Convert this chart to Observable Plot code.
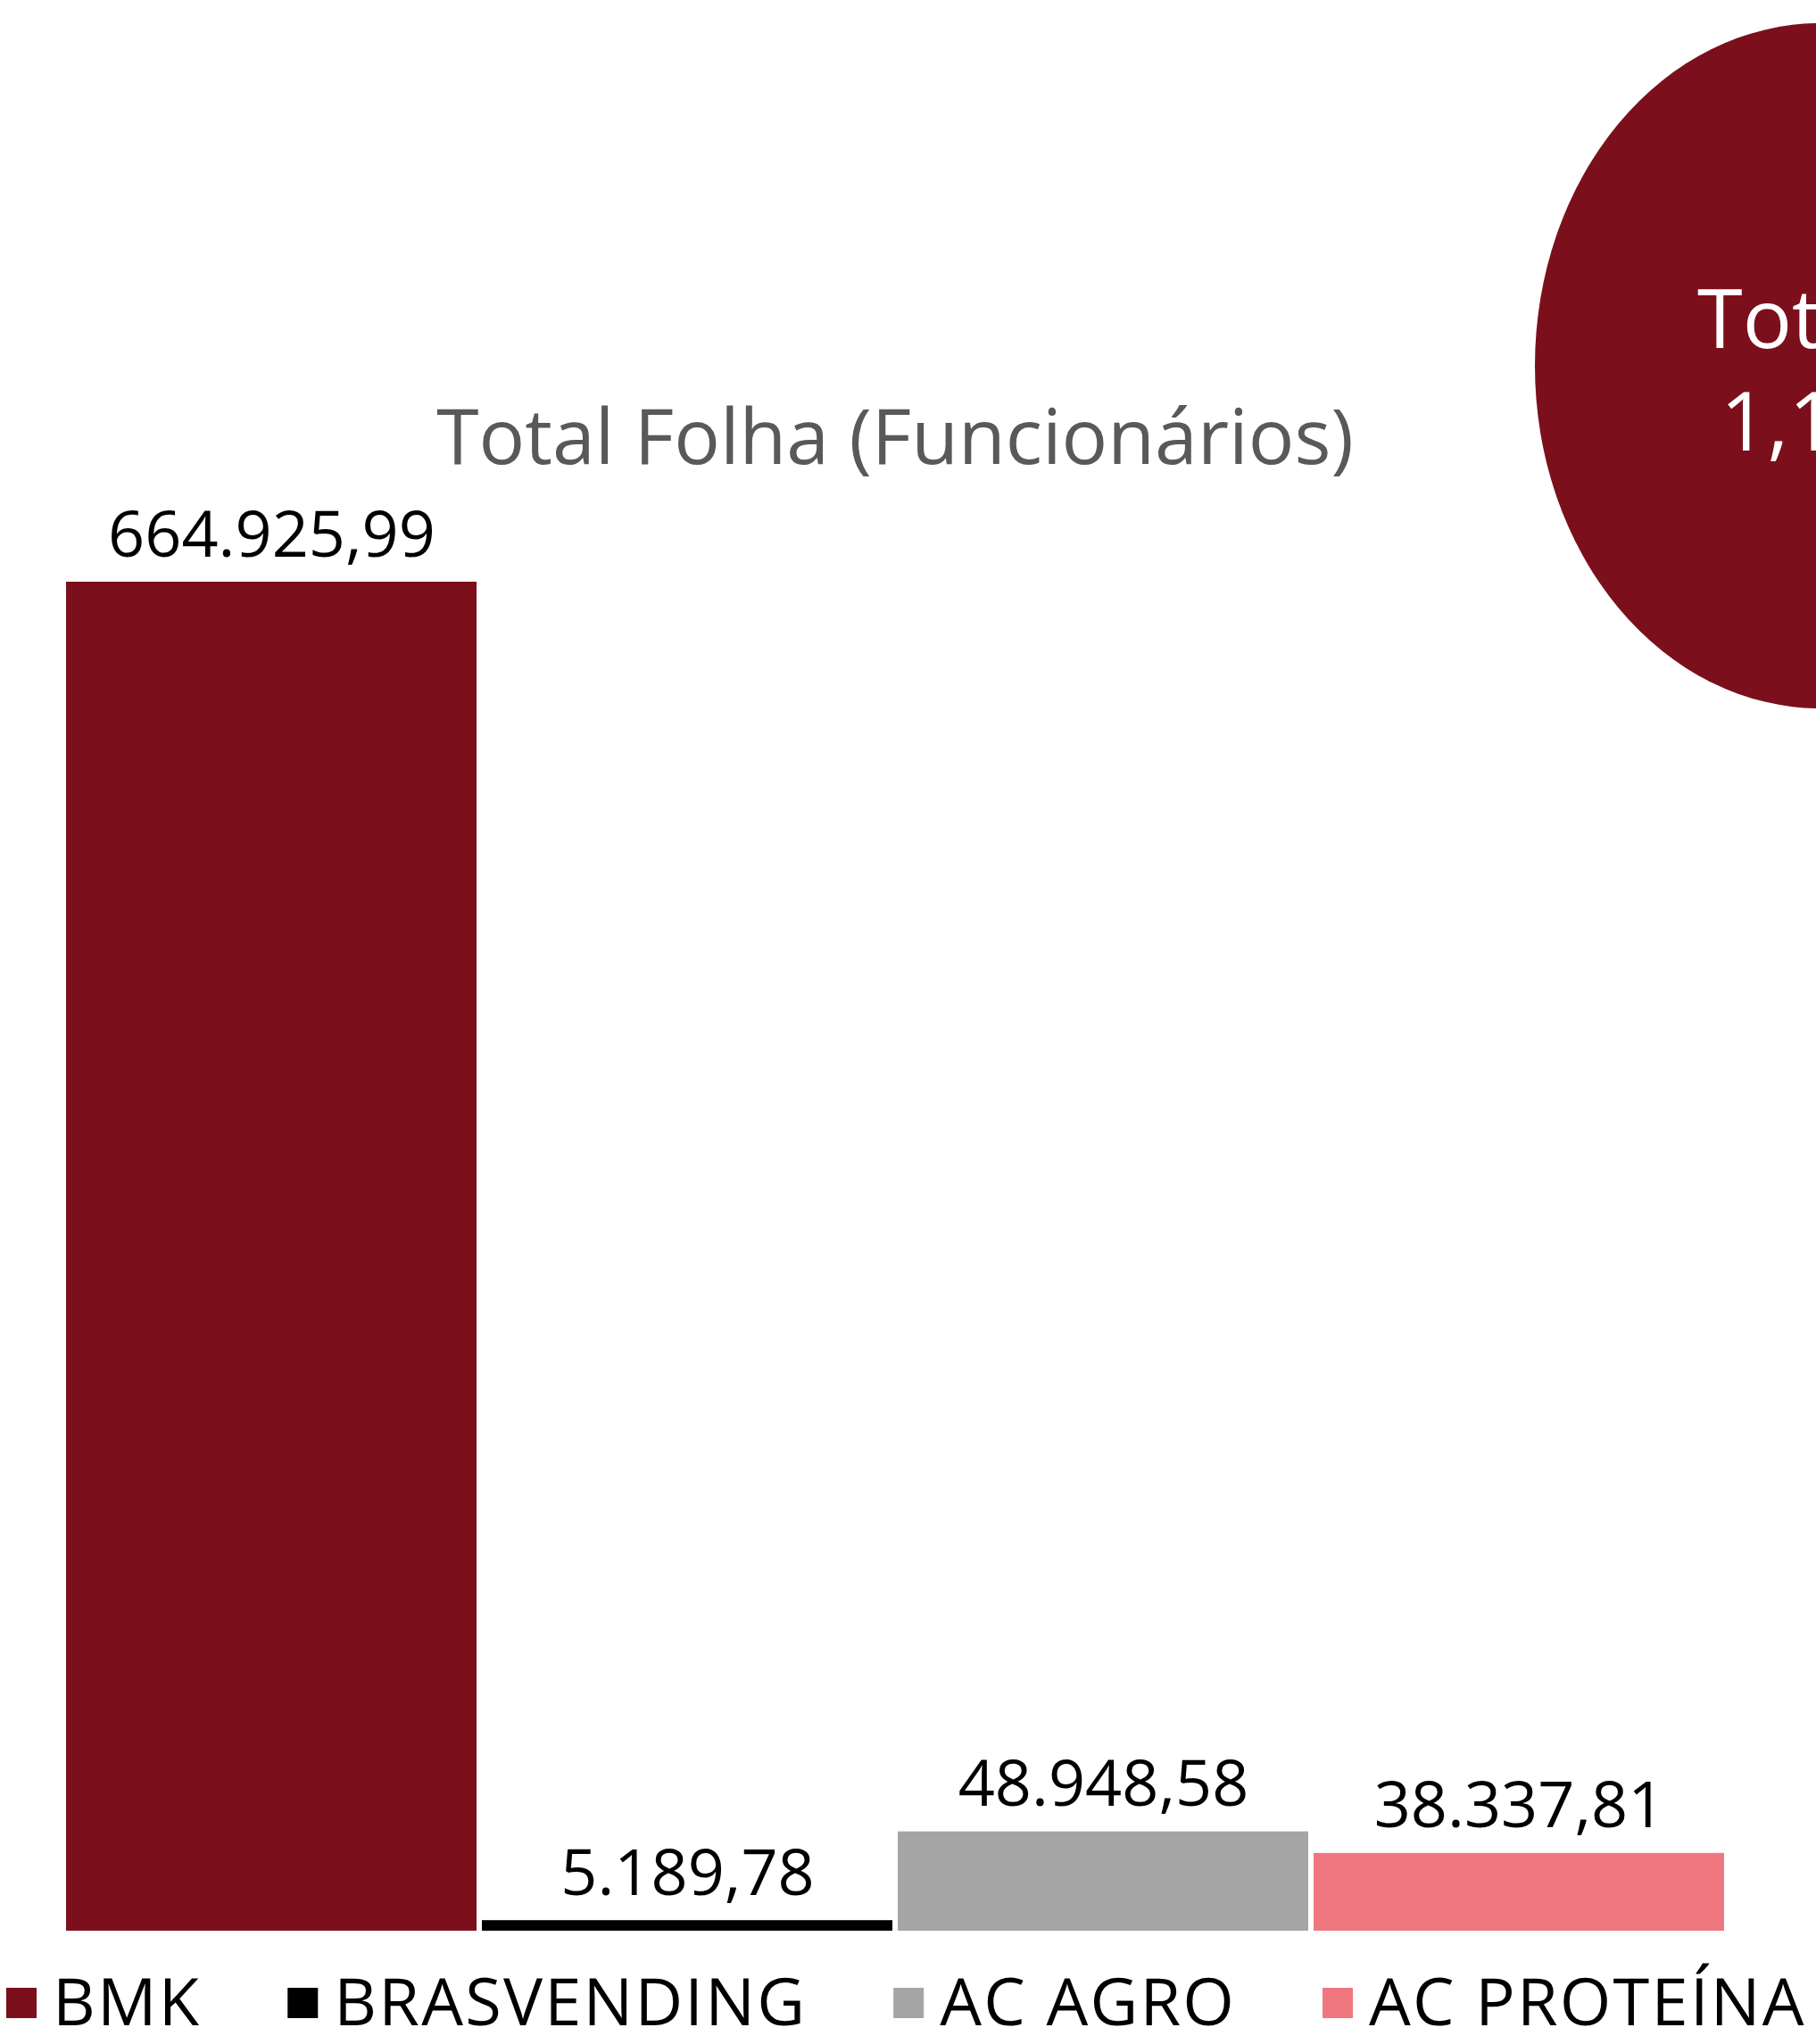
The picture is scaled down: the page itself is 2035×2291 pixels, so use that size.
<!DOCTYPE html>
<html>
<head>
<meta charset="utf-8">
<script src="https://cdn.jsdelivr.net/npm/d3@7"></script>
<script src="https://cdn.jsdelivr.net/npm/@observablehq/plot@0.6"></script>
<style>
  html, body { margin: 0; padding: 0; background: #fff; overflow: hidden; }
  svg { display: block; }
</style>
</head>
<body>
<script>
const categories = ["BMK", "BRASVENDING", "AC AGRO", "AC PROTEÍNA"];
const values = [664925.99, 5189.78, 48948.58, 38337.81];
const valueLabels = ["664.925,99", "5.189,78", "48.948,58", "38.337,81"];
const colors = ["#7B101C", "#000000", "#A5A5A5", "#EE7780"];
const titleText = "Total Folha (Funcionários)";
const badgeLines = ["Total", "1,1 mi"];

const data = categories.map((c, i) => ({category: c, value: values[i], label: valueLabels[i]}));

const W = 2035, H = 2291;
const font = "'Open Sans', sans-serif";

const chart = Plot.plot({
  width: W,
  height: H,
  marginLeft: 73,
  marginRight: 103,
  marginTop: 652,
  marginBottom: 127,
  style: {fontFamily: font, background: "#fff"},
  x: {domain: categories, paddingInner: 0.013, paddingOuter: 0, axis: null},
  y: {domain: [0, d3.max(values)], axis: null},
  color: {domain: categories, range: colors},
  marks: [
    Plot.barY(data, {x: "category", y: "value", fill: "category"}),
    Plot.text(data, {x: "category", y: "value", text: "label", lineAnchor: "bottom", dy: -29, fontSize: 72, fill: "#000"}),
    Plot.text([titleText], {frameAnchor: "top", text: d => d, lineAnchor: "bottom", dy: -133, fontSize: 86, fill: "#595959"})
  ]
});
document.body.appendChild(chart);

const svg = d3.select(chart);
// badge ellipse (top right, clipped by page edge)
const badge = svg.append("g");
badge.append("ellipse").attr("cx", 2040).attr("cy", 410).attr("rx", 320).attr("ry", 384).attr("fill", "#7B101C");
const badgeX = [1902, 1928];
badge.selectAll("text").data(badgeLines).join("text")
  .attr("x", (d, i) => badgeX[i]).attr("y", (d, i) => 390 + i * 115)
  .attr("text-anchor", "start").attr("fill", "#fff")
  .attr("font-family", font).attr("font-size", 92).text(d => d);

// legend below the chart
const legend = svg.append("g").attr("text-anchor", "start");
let x = 7;
const sq = 34, yCenter = 2245, gapAfterSq = 18, gapItem = 97, ls = 2.2;
categories.forEach((c, i) => {
  legend.append("rect").attr("x", x).attr("y", yCenter - sq / 2).attr("width", sq).attr("height", sq).attr("fill", colors[i]);
  const t = legend.append("text").attr("x", x + sq + gapAfterSq).attr("y", 2270)
    .attr("text-anchor", "start").attr("letter-spacing", ls)
    .attr("font-family", font).attr("font-size", 74).attr("fill", "#000").text(c);
  x += sq + gapAfterSq + t.node().getComputedTextLength() + gapItem;
});
</script>
</body>
</html>
